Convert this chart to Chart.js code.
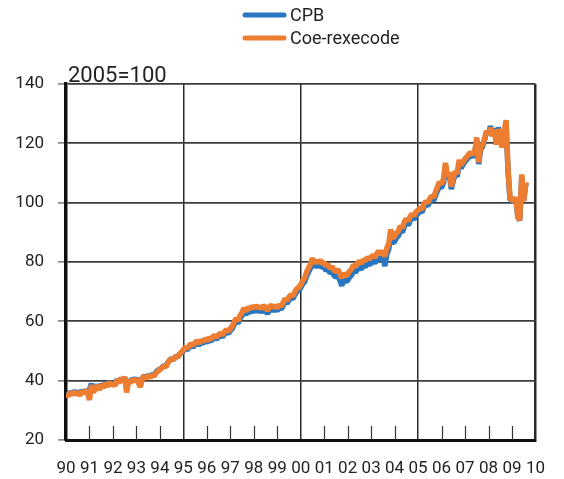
<!DOCTYPE html>
<html>
<head>
<meta charset="utf-8">
<script src="https://cdn.jsdelivr.net/npm/chart.js@4/dist/chart.umd.min.js"></script>
<style>
  html, body { margin: 0; padding: 0; background: #fff; }
  canvas { display: block; }
</style>
</head>
<body>
<canvas id="tradeChart" width="564" height="479"></canvas>
<script>
// monthly index, Jan 1990 .. Sep 2009 (2005=100)
const startYear = 1990;

// Coe-rexecode
const coeValues = [
  35.5, 34.8, 36.0, 35.2, 36.3, 35.4, 36.1, 35.0, 36.4, 35.8, 36.6, 35.9,   // 1990
  33.5, 38.5, 36.0, 37.2, 38.4, 36.8, 38.6, 37.5, 39.2, 38.0, 39.5, 38.4,   // 1991
  39.0, 38.2, 40.3, 39.1, 40.9, 39.6, 41.3, 36.0, 40.2, 39.2, 40.6, 39.8,   // 1992
  40.5, 39.3, 37.8, 40.8, 41.5, 40.6, 41.8, 41.0, 42.0, 41.4, 42.6, 43.2,   // 1993
  43.8, 44.2, 45.0, 44.6, 46.0, 46.8, 47.5, 47.0, 48.3, 47.9, 49.0, 49.6,   // 1994
  50.4, 51.3, 50.8, 51.9, 52.4, 51.8, 52.9, 53.3, 52.6, 53.6, 53.2, 54.0,   // 1995
  53.6, 54.3, 54.0, 54.8, 55.2, 54.6, 55.5, 56.0, 55.4, 56.5, 57.2, 56.6,   // 1996
  57.5, 58.4, 59.8, 61.0, 60.2, 62.0, 63.0, 64.5, 63.4, 64.6, 64.2, 65.0,   // 1997
  64.5, 65.2, 64.6, 65.0, 64.2, 65.3, 64.8, 63.6, 64.9, 65.4, 64.7, 65.2,   // 1998
  64.5, 65.6, 65.0, 66.3, 67.6, 67.0, 68.2, 69.0, 68.5, 70.0, 71.0, 71.5,   // 1999
  72.3, 73.8, 74.5, 76.6, 78.0, 79.2, 81.3, 79.6, 80.5, 79.8, 80.6, 79.5,   // 2000
  79.8, 78.6, 79.2, 77.8, 78.5, 77.2, 76.8, 77.5, 76.0, 74.6, 76.2, 75.4,   // 2001
  75.8, 76.9, 77.6, 79.0, 78.4, 79.6, 80.2, 79.5, 80.8, 80.4, 81.5, 81.0,   // 2002
  81.6, 82.4, 81.5, 83.0, 83.6, 82.6, 83.8, 81.8, 84.6, 86.2, 91.0, 88.2,   // 2003
  88.6, 89.8, 90.5, 92.2, 91.5, 93.6, 94.6, 93.8, 95.4, 96.2, 95.6, 97.0,   // 2004
  97.4, 98.3, 97.8, 99.6, 100.4, 100.0, 101.4, 102.3, 101.8, 103.8, 105.5, 107.0, // 2005
  106.2, 108.0, 113.4, 109.0, 110.2, 105.4, 108.6, 110.5, 109.8, 114.4, 112.6, 113.8, // 2006
  114.8, 115.5, 116.4, 116.9, 116.2, 117.4, 122.0, 113.6, 118.8, 119.5, 121.6, 124.2, // 2007
  123.0, 125.2, 122.4, 124.6, 119.6, 124.8, 121.0, 118.6, 124.0, 127.8, 111.0, 101.5, // 2008
  101.0, 100.5, 101.8, 95.0, 94.2, 109.5, 100.5, 106.2, 105.8                         // 2009
];

// CPB
const cpbValues = [
  35.8, 35.2, 36.2, 35.6, 36.5, 35.8, 36.3, 35.5, 36.6, 36.0, 36.8, 36.2,   // 1990
  37.0, 39.0, 36.5, 37.5, 38.6, 37.2, 38.8, 37.8, 39.4, 38.3, 39.6, 38.7,   // 1991
  39.2, 38.6, 40.4, 39.4, 40.9, 39.9, 41.2, 37.0, 40.3, 39.6, 40.7, 40.1,   // 1992
  40.7, 39.8, 38.6, 40.9, 41.6, 40.9, 41.9, 41.3, 42.2, 41.8, 42.9, 43.5,   // 1993
  43.9, 44.4, 45.1, 44.8, 46.0, 46.9, 47.4, 47.1, 48.2, 47.9, 48.8, 49.4,   // 1994
  50.0, 50.8, 50.4, 51.3, 51.8, 51.3, 52.2, 52.6, 52.0, 52.9, 52.6, 53.3,   // 1995
  53.0, 53.6, 53.4, 54.0, 54.5, 54.0, 54.7, 55.2, 54.8, 55.7, 56.3, 55.9,   // 1996
  56.8, 57.6, 58.9, 60.0, 59.4, 61.0, 61.9, 63.2, 62.3, 63.3, 63.0, 63.7,   // 1997
  63.3, 63.9, 63.4, 63.8, 63.1, 64.1, 63.6, 62.6, 63.8, 64.2, 63.6, 64.1,   // 1998
  63.6, 64.6, 64.1, 65.3, 66.6, 66.1, 67.2, 68.0, 67.6, 69.0, 70.0, 70.6,   // 1999
  71.3, 72.6, 73.3, 75.2, 76.6, 77.9, 79.8, 78.3, 79.1, 78.4, 79.2, 78.1,   // 2000
  78.3, 77.1, 77.6, 76.2, 76.8, 75.4, 74.9, 75.5, 73.9, 72.0, 74.0, 73.5,   // 2001
  73.8, 74.9, 75.6, 77.0, 76.5, 77.6, 78.2, 77.6, 78.8, 78.4, 79.5, 79.1,   // 2002
  79.6, 80.4, 79.6, 81.0, 81.6, 80.7, 81.8, 78.6, 82.5, 84.3, 89.2, 86.5,   // 2003
  86.9, 88.2, 88.9, 90.6, 90.0, 92.1, 93.1, 92.4, 94.0, 94.9, 94.4, 95.8,   // 2004
  96.3, 97.2, 96.8, 98.5, 99.4, 99.0, 100.3, 101.2, 100.7, 102.5, 104.2, 105.4, // 2005
  105.0, 106.8, 112.0, 108.0, 109.0, 104.6, 107.5, 109.4, 108.8, 113.2, 111.6, 112.9, // 2006
  113.9, 114.6, 115.5, 116.0, 115.4, 116.6, 121.0, 113.0, 118.0, 118.9, 121.2, 123.8, // 2007
  123.2, 125.8, 122.6, 125.0, 120.5, 125.4, 121.6, 119.0, 123.2, 126.0, 110.5, 101.0, // 2008
  100.8, 100.3, 101.5, 95.2, 94.0, 108.5, 100.8, 105.9, 105.5                         // 2009
];

// axis ticks
const yTicks = [20, 40, 60, 80, 100, 120, 140];
const xYears = [1990, 1991, 1992, 1993, 1994, 1995, 1996, 1997, 1998, 1999, 2000,
                2001, 2002, 2003, 2004, 2005, 2006, 2007, 2008, 2009, 2010];
const fullGridYears = [1995, 2000, 2005, 2010];
const seriesNames = ['CPB', 'Coe-rexecode'];
const seriesColors = ['#2a77c1', '#ed7d31'];
const unitLabel = '2005=100';

const FONT = 'Roboto, "Noto Sans", sans-serif';
const TEXT = '#231f20';

function toPoints(values) {
    return values.map((v, i) => ({ x: startYear + i / 12, y: v }));
}

// small ticks inside the bottom axis, unit label, stacked legend
const extrasPlugin = {
    id: 'extras',
    afterDraw(chart) {
        const ctx = chart.ctx;
        const area = chart.chartArea;
        const xs = chart.scales.x;
        ctx.save();
        ctx.strokeStyle = '#333';
        ctx.lineWidth = 1.2;
        xYears.forEach(yr => {
            if (yr === xYears[0] || fullGridYears.includes(yr)) return;
            const px = Math.round(xs.getPixelForValue(yr)) + 0.5;
            ctx.beginPath();
            ctx.moveTo(px, area.bottom);
            ctx.lineTo(px, area.bottom - 14);
            ctx.stroke();
        });

        ctx.fillStyle = TEXT;
        ctx.font = '22px ' + FONT;
        ctx.textAlign = 'left';
        ctx.textBaseline = 'alphabetic';
        ctx.fillText(unitLabel, area.left + 2, area.top - 2);

        // legend
        ctx.font = '18px ' + FONT;
        ctx.lineCap = 'round';
        seriesNames.forEach((name, i) => {
            const cy = 15 + i * 23;
            ctx.strokeStyle = seriesColors[i];
            ctx.lineWidth = 5;
            ctx.beginPath();
            ctx.moveTo(245, cy);
            ctx.lineTo(284, cy);
            ctx.stroke();
            ctx.fillStyle = TEXT;
            ctx.textBaseline = 'middle';
            ctx.fillText(name, 290, cy + 1);
        });
        ctx.restore();
    }
};

new Chart(document.getElementById('tradeChart'), {
    type: 'line',
    data: {
        datasets: [
            {
                label: seriesNames[0],
                data: toPoints(cpbValues),
                borderColor: seriesColors[0],
                borderWidth: 5.5,
                borderJoinStyle: 'bevel',
                pointRadius: 0,
                tension: 0,
                order: 1
            },
            {
                label: seriesNames[1],
                data: toPoints(coeValues),
                borderColor: seriesColors[1],
                borderWidth: 5.5,
                borderJoinStyle: 'bevel',
                pointRadius: 0,
                tension: 0,
                order: 0
            }
        ]
    },
    options: {
        responsive: false,
        animation: false,
        devicePixelRatio: 1,
        layout: { padding: { top: 84, right: 20, left: 0, bottom: 0 } },
        plugins: {
            legend: { display: false },
            tooltip: { enabled: false }
        },
        scales: {
            x: {
                type: 'linear',
                min: xYears[0],
                max: xYears[xYears.length - 1],
                afterBuildTicks: s => { s.ticks = xYears.map(v => ({ value: v })); },
                afterFit: s => { s.height = 39; },
                ticks: {
                    autoSkip: false,
                    maxRotation: 0,
                    padding: 19,
                    color: TEXT,
                    font: { family: FONT, size: 17 },
                    callback: v => String(v % 100).padStart(2, '0')
                },
                grid: {
                    drawTicks: false,
                    color: c => (c.tick && fullGridYears.includes(c.tick.value)) ? '#2b2b2b' : 'rgba(0,0,0,0)',
                    lineWidth: c => (c.tick && c.tick.value === 2010) ? 2.5 : 1.5
                },
                border: { color: '#111', width: 3 }
            },
            y: {
                min: yTicks[0],
                max: yTicks[yTicks.length - 1],
                afterBuildTicks: s => { s.ticks = yTicks.map(v => ({ value: v })); },
                afterFit: s => { s.width = 66; },
                ticks: {
                    padding: 14,
                    color: TEXT,
                    font: { family: FONT, size: 17 }
                },
                grid: {
                    color: '#3c3c3c',
                    lineWidth: 1.8,
                    tickLength: 8,
                    tickColor: '#555',
                    tickWidth: 1.2
                },
                border: { color: '#111', width: 3.5 }
            }
        }
    },
    plugins: [extrasPlugin]
});
</script>
</body>
</html>
